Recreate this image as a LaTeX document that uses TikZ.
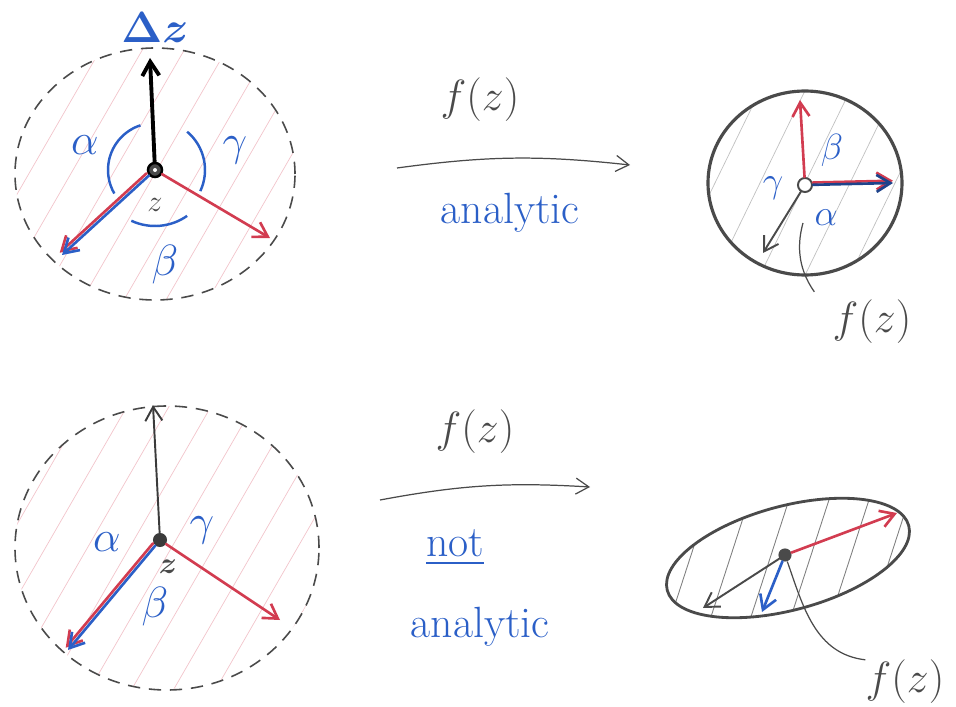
\documentclass[tikz,border=0pt]{standalone}
\usepackage{amsmath,amssymb}
\usetikzlibrary{arrows.meta,positioning,calc}
\definecolor{Pen}{HTML}{2B5FC7}
\definecolor{Ink}{HTML}{D23C50}
\definecolor{Lead}{HTML}{4A4A4A}

\begin{document}
\begin{tikzpicture}[x=0.2mm,y=0.2mm,
    vec/.style={line width=1.5pt,line cap=round,-{Straight Barb[length=2.8mm,width=3.4mm]}},
    map/.style={draw=Lead,line width=0.7pt,-{Straight Barb[length=2.6mm,width=3.2mm]}},
    rim/.style={draw=Lead,line width=0.9pt,dash pattern=on 7pt off 5pt},
    hatch/.style={line width=0.4pt},
    lbl/.style={font=\Huge,text=Pen,inner sep=0pt},
    sml/.style={font=\huge,text=Pen,inner sep=0pt},
    fz/.style={font=\Huge,text=Lead,inner sep=0pt},
    hand/.style={draw=Lead,line width=0.7pt}]
  \useasboundingbox (0,0) rectangle (956,706);

  % top left: z plane, analytic case
  \begin{scope}
    \clip (155,532) ellipse (140 and 126);
    \foreach \s in {-4,...,5}
      \draw[hatch,draw=Ink!30] (45+\s*42,342) -- ++(60:440);
  \end{scope}
  \draw[rim] (155,532) ellipse (140 and 126);
  \node[circle,draw=black,fill=Lead,line width=1.4pt,minimum size=8pt,inner sep=0] (zA) at (155,536) {};
  \fill[white] (zA) circle (2);
  \coordinate (upA) at (150,648);
  \coordinate (llA) at (62,451);
  \coordinate (lrA) at (270,468);
  \draw[vec,black,line width=2.2pt] (zA) -- (upA);
  \draw[vec,Ink,transform canvas={shift={(-1.3pt,1.3pt)}}] (zA) -- (llA);
  \draw[vec,Pen] (zA) -- (llA);
  \draw[vec,Ink] (zA) -- (lrA);
  \draw[Pen,line width=1.4pt] (zA) ++(108:47) arc[start angle=108,end angle=210,radius=47];
  \draw[Pen,line width=1.4pt] (zA) ++(50:50) arc[start angle=50,end angle=-25,radius=50];
  \draw[Pen,line width=1.4pt] (zA) ++(245:56) arc[start angle=245,end angle=305,radius=56];
  \node[lbl,font=\Huge\boldmath] (dzA) at (155,678) {$\Delta z$};
  \node[lbl] (alA) at (85,561) {$\alpha$};
  \node[lbl] (gaA) at (235,556) {$\gamma$};
  \node[lbl] (beA) at (165,441) {$\beta$};
  \node[font=\LARGE,text=Lead,inner sep=0] (zlA) at (155,501) {$z$};

  % top middle: the map
  \coordinate (m0A) at (397,538);
  \coordinate (m1A) at (630,541);
  \draw[map] (m0A) to[bend left=7] (m1A);
  \node[fz] (fzA) at (480,606) {$f(z)$};
  \node[lbl] (anA) at (510,493) {analytic};

  % top right: image, circle kept
  \begin{scope}
    \clip (805,523) ellipse (97 and 92);
    \foreach \s in {-3,...,3}
      \draw[hatch,draw=Lead!35] (745+\s*45,400) -- ++(64:280);
  \end{scope}
  \draw[draw=Lead,line width=1.8pt] (805,523) ellipse (97 and 92);
  \node[circle,draw=Lead,fill=white,line width=1.1pt,minimum size=8pt,inner sep=0] (fA) at (805,521) {};
  \coordinate (upF) at (800,606);
  \coordinate (rtF) at (893,523);
  \coordinate (llF) at (763,453);
  \draw[vec,Ink] (fA) -- (upF);
  \draw[vec,Ink,transform canvas={shift={(0pt,1.3pt)}}] (fA) -- (rtF);
  \draw[vec,Pen!70!black] (fA) -- (rtF);
  \draw[vec,Lead,line width=1.1pt] (fA) -- (llF);
  \node[sml] (beF) at (832,556) {$\beta$};
  \node[sml] (gaF) at (773,518) {$\gamma$};
  \node[sml] (alF) at (826,488) {$\alpha$};
  \node[fz] (lfA) at (872,384) {$f(z)$};
  \coordinate (hA) at (803,483);
  \draw[hand] ([shift={(-18,8)}]lfA.north west) .. controls (796,440) and (798,465) .. (hA);

  % bottom left: z plane, not analytic case
  \begin{scope}
    \clip (167,158) ellipse (152 and 142);
    \foreach \s in {-4,...,5}
      \draw[hatch,draw=Ink!30] (57+\s*42,-40) -- ++(60:460);
  \end{scope}
  \draw[rim] (167,158) ellipse (152 and 142);
  \node[circle,fill=Lead!80!black,minimum size=8pt,inner sep=0] (zB) at (160,166) {};
  \coordinate (upB) at (153,301);
  \coordinate (llB) at (68,56);
  \coordinate (lrB) at (280,86);
  \draw[vec,Lead!80!black,line width=1.1pt] (zB) -- (upB);
  \draw[vec,Ink,transform canvas={shift={(-1.3pt,1.3pt)}}] (zB) -- (llB);
  \draw[vec,Pen] (zB) -- (llB);
  \draw[vec,Ink] (zB) -- (lrB);
  \node[lbl] (alB) at (107,164) {$\alpha$};
  \node[lbl] (gaB) at (202,176) {$\gamma$};
  \node[font=\LARGE\boldmath,text=Lead,inner sep=0] (zlB) at (168,139) {$z$};
  \node[lbl] (beB) at (155,99) {$\beta$};

  % bottom middle: the map
  \coordinate (m0B) at (380,206);
  \coordinate (m1B) at (590,219);
  \draw[map] (m0B) to[bend left=7] (m1B);
  \node[fz] (fzB) at (475,274) {$f(z)$};
  \node[lbl] (noB) at (455,158) {\underline{not}};
  \node[lbl] (anB) at (480,79) {analytic};

  % bottom right: image, circle squashed
  \begin{scope}
    \clip[rotate around={15:(788,148)}] (788,148) ellipse (125 and 52);
    \foreach \s in {-3,...,4}
      \draw[hatch,draw=Lead!70,line width=0.5pt] (735+\s*40,40) -- ++(72:230);
  \end{scope}
  \draw[draw=Lead,line width=1.6pt,rotate around={15:(788,148)}] (788,148) ellipse (125 and 52);
  \node[circle,fill=Lead,minimum size=7.5pt,inner sep=0] (fB) at (785,151) {};
  \coordinate (rtG) at (897,193);
  \coordinate (blG) at (762,94);
  \coordinate (llG) at (703,98);
  \draw[vec,Ink] (fB) -- (rtG);
  \draw[vec,Pen] (fB) -- (blG);
  \draw[vec,Lead,line width=1.1pt] (fB) -- (llG);
  \node[fz] (lfB) at (905,24) {$f(z)$};
  \draw[hand] (lfB.north west) .. controls (815,52) and (803,100) .. (fB);
\end{tikzpicture}
\end{document}
